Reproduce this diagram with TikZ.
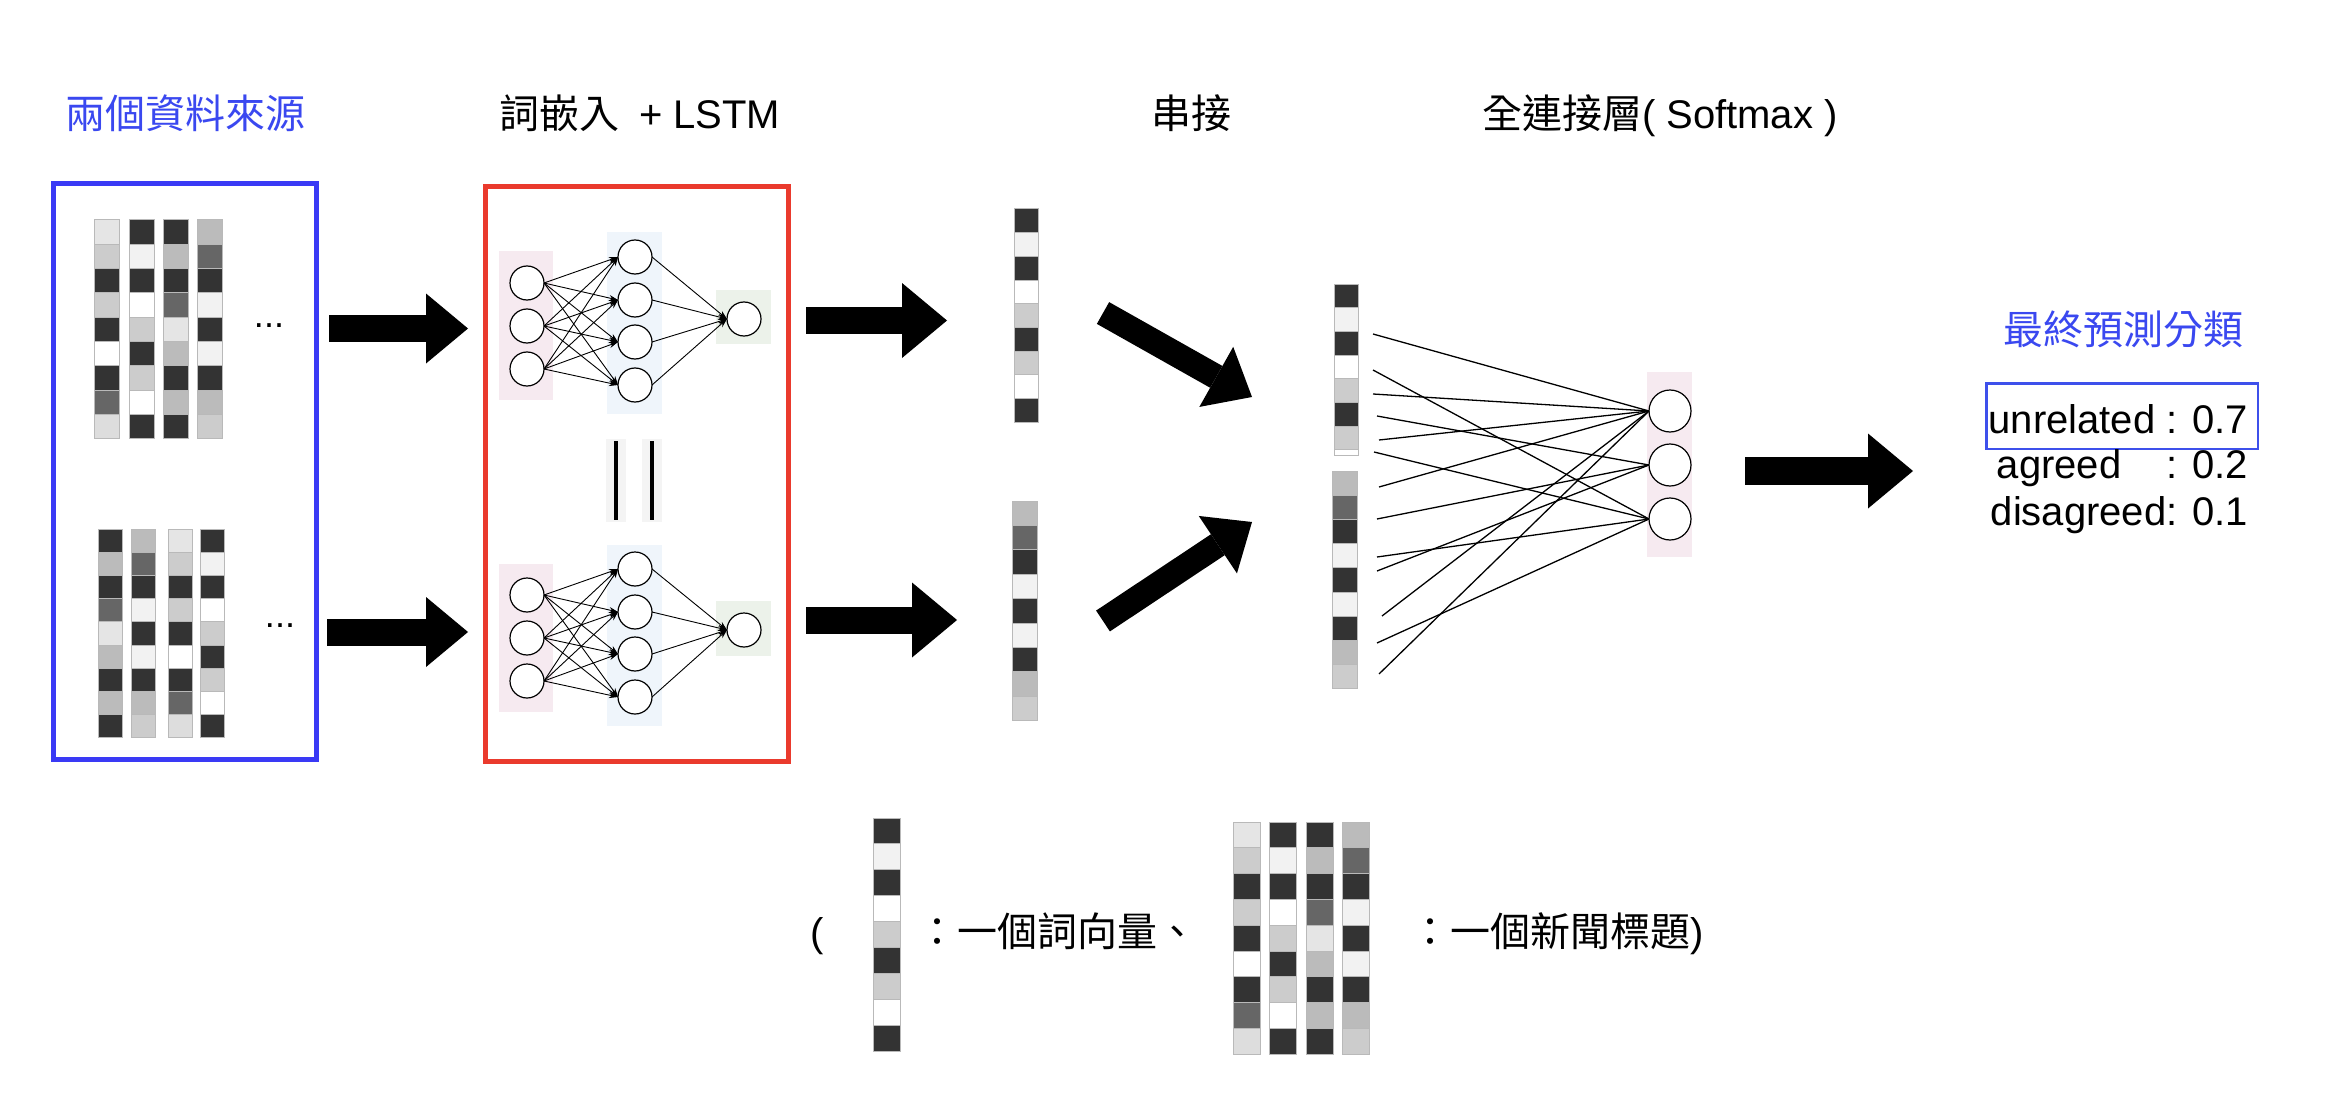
\documentclass[tikz,border=0pt]{standalone}
\usepackage{fontspec}
\setmainfont{Liberation Sans}
\newfontfamily\cjk{Noto Sans CJK TC}
\usetikzlibrary{arrows.meta}

\definecolor{srcblue}{RGB}{58,58,245}
\definecolor{ttlblue}{RGB}{58,72,240}
\definecolor{resblue}{RGB}{62,80,235}
\definecolor{lstmred}{RGB}{234,58,45}
\definecolor{pinkbg}{RGB}{246,234,240}
\definecolor{bluebg}{RGB}{239,245,251}
\definecolor{greenbg}{RGB}{236,242,234}
\definecolor{stripbg}{RGB}{244,244,244}
\definecolor{cellline}{RGB}{185,185,185}
\definecolor{k3}{RGB}{51,51,51}
\definecolor{k6}{RGB}{102,102,102}
\definecolor{kb}{RGB}{187,187,187}
\definecolor{kc}{RGB}{204,204,204}
\definecolor{kd}{RGB}{221,221,221}
\definecolor{ke}{RGB}{229,229,229}
\definecolor{kf}{RGB}{242,242,242}
\definecolor{kw}{RGB}{255,255,255}

\def\colA{ke,kc,k3,kc,k3,kw,k3,k6,kd}
\def\colB{k3,kf,k3,kw,kc,k3,kc,kw,k3}
\def\colC{k3,kb,k3,k6,ke,kb,k3,kb,k3}
\def\colD{kb,k6,k3,kf,k3,kf,k3,kb,kc}
\def\colBseven{k3,kf,k3,kw,kc,k3,kc}

% x, ytop, width, cell height, colour list macro
\newcommand\vecbar[5]{%
  \foreach \cc [count=\ii] in #5 {
    \filldraw[fill=\cc, draw=cellline, line width=1pt]
      ({#1},{#2+(\ii-1)*#4}) rectangle ++(#3,#4);
  }}

\tikzset{
  neuron/.style={circle, draw=black, line width=1.2pt, fill=white,
                 minimum size=34pt, inner sep=0pt, outer sep=0pt},
  outneuron/.style={neuron, minimum size=42pt},
  nnedge/.style={line width=0.9pt, -{Stealth[length=9pt,width=6pt]}},
  fcedge/.style={line width=1.3pt},
  bigarrow/.style={line width=27pt, -{Triangle[length=45pt,width=75pt,line width=0pt]}},
  smallarrow/.style={line width=27pt, -{Triangle[length=42pt,width=70pt,line width=0pt]}},
  diagarrow/.style={line width=25pt, -{Triangle[length=41pt,width=69pt,line width=0pt]}},
  txt/.style={font=\fontsize{40}{46}\selectfont, inner sep=0pt, outer sep=0pt},
}

\begin{document}
\begin{tikzpicture}[x=1pt,y=-1pt]
\useasboundingbox[fill=white] (0,0) rectangle (2332,1094);

% ---------- titles ----------
\node[txt, anchor=base, text=ttlblue] (t1) at (185,129) {\cjk 兩個資料來源};
\node[txt, anchor=base west] (t2) at (499,129) {{\cjk 詞嵌入}\hspace{20pt}+ LSTM};
\node[txt, anchor=base] (t3) at (1191,129) {\cjk 串接};
\node[txt, anchor=base west] (t4) at (1482,129) {{\cjk 全連接層}( Softmax )};
\node[txt, anchor=base, text=ttlblue] (t5) at (2123,344) {\cjk 最終預測分類};

% ---------- source box ----------
\draw[srcblue, line width=5pt] (53.5,183.5) rectangle (316.5,759.5);
\vecbar{94}{220}{25}{24.33}{\colA}
\vecbar{129}{220}{25}{24.33}{\colB}
\vecbar{163}{220}{25}{24.33}{\colC}
\vecbar{197}{220}{25}{24.33}{\colD}
\vecbar{98}{529}{24}{23.2}{\colC}
\vecbar{131}{529}{24}{23.2}{\colD}
\vecbar{168}{529}{24}{23.2}{\colA}
\vecbar{200}{529}{24}{23.2}{\colB}
\node[font=\fontsize{36}{40}\selectfont, inner sep=0pt, anchor=base] (dots1) at (269,327) {...};
\node[font=\fontsize{36}{40}\selectfont, inner sep=0pt, anchor=base] (dots2) at (280,627) {...};

% ---------- LSTM box ----------
\draw[lstmred, line width=5pt] (485.5,186.5) rectangle (788.5,761.5);

% top net
\fill[pinkbg] (499,251) rectangle (553,400);
\fill[bluebg] (607,232) rectangle (662,414);
\fill[greenbg] (716,290) rectangle (771,344);
\foreach \y [count=\i] in {283,326,369} \node[neuron] (ti\i) at (527,\y) {};
\foreach \y [count=\i] in {257,300,342,385} \node[neuron] (th\i) at (635,\y) {};
\node[neuron] (to) at (744,319) {};
\foreach \i in {1,2,3} \foreach \j in {1,2,3,4} \draw[nnedge] (ti\i.east) -- (th\j.west);
\foreach \j in {1,2,3,4} \draw[nnedge] (th\j.east) -- (to.west);

% bottom net
\fill[pinkbg] (499,564) rectangle (553,712);
\fill[bluebg] (607,545) rectangle (662,726);
\fill[greenbg] (716,601) rectangle (771,656);
\foreach \y [count=\i] in {595,638,681} \node[neuron] (bi\i) at (527,\y) {};
\foreach \y [count=\i] in {569,612,654,697} \node[neuron] (bh\i) at (635,\y) {};
\node[neuron] (bo) at (744,630) {};
\foreach \i in {1,2,3} \foreach \j in {1,2,3,4} \draw[nnedge] (bi\i.east) -- (bh\j.west);
\foreach \j in {1,2,3,4} \draw[nnedge] (bh\j.east) -- (bo.west);

% shared-weight bars
\fill[stripbg] (606,439) rectangle (626,522);
\fill[stripbg] (642,439) rectangle (662,522);
\draw[line width=3.5pt] (616,441) -- (616,520);
\draw[line width=3.5pt] (652,441) -- (652,520);

% ---------- LSTM outputs ----------
\vecbar{1014}{209}{24}{23.7}{\colB}
\vecbar{1012}{501}{25}{24.4}{\colD}

% ---------- concatenated vector ----------
\vecbar{1334}{284}{24}{23.7}{\colBseven}
\filldraw[fill=white, draw=cellline, line width=1pt] (1334,449.9) rectangle (1358,455);
\vecbar{1332}{471}{25}{24.2}{\colD}

% ---------- output layer ----------
\fill[pinkbg] (1647,372) rectangle (1692,557);
\coordinate (l1) at (1373,334);
\coordinate (l2) at (1373,370);
\coordinate (l3) at (1373,394);
\coordinate (l4) at (1377,416);
\coordinate (l5) at (1379,440);
\coordinate (l6) at (1374,452);
\coordinate (l7) at (1379,487);
\coordinate (l8) at (1377,519);
\coordinate (l9) at (1377,557);
\coordinate (l10) at (1377,571);
\coordinate (l11) at (1382,616);
\coordinate (l12) at (1377,643);
\coordinate (l13) at (1379,674);
\node[outneuron] (c1) at (1670,411) {};
\node[outneuron] (c2) at (1670,465) {};
\node[outneuron] (c3) at (1670,519) {};
\foreach \s/\t in {l1/c1,l2/c3,l3/c1,l4/c2,l5/c1,l6/c3,l7/c1,l8/c2,l9/c3,l10/c2,l11/c1,l12/c3,l13/c1}
  \draw[fcedge] (\s) -- (\t.west);

% ---------- big arrows ----------
\coordinate (a1s) at (329,328.5);  \coordinate (a1e) at (468,328.5);
\coordinate (a2s) at (327,632);    \coordinate (a2e) at (468,632);
\coordinate (a3s) at (806,320.5);  \coordinate (a3e) at (947,320.5);
\coordinate (a4s) at (806,620);    \coordinate (a4e) at (957,620);
\coordinate (a5s) at (1103,313);   \coordinate (a5e) at (1252,397);
\coordinate (a6s) at (1103,621);   \coordinate (a6e) at (1252,522);
\coordinate (a7s) at (1745,471);   \coordinate (a7e) at (1913,471);
\draw[smallarrow] (a1s) -- (a1e);
\draw[smallarrow] (a2s) -- (a2e);
\draw[bigarrow] (a3s) -- (a3e);
\draw[bigarrow] (a4s) -- (a4e);
\draw[diagarrow] (a5s) -- (a5e);
\draw[diagarrow] (a6s) -- (a6e);
\draw[bigarrow, line width=28pt] (a7s) -- (a7e);

% ---------- results ----------
\draw[resblue, line width=2.5pt] (1986.25,383.25) rectangle (2257.75,448.75);
\node[txt, anchor=base east] (r1) at (2248,433) {unrelated : 0.7};
\node[txt, anchor=base east] (r2) at (2248,478) {agreed\hspace{45pt}: 0.2};
\node[txt, anchor=base east] (r3) at (2248,525) {disagreed: 0.1};

% ---------- legend ----------
\node[txt, anchor=base west] (lp) at (810,946) {(};
\vecbar{873}{818}{27}{25.9}{\colB}
\node[txt, anchor=base west] (lw) at (917,946) {\cjk ：一個詞向量、};
\vecbar{1233}{822}{27}{25.8}{\colA}
\vecbar{1269}{822}{27}{25.8}{\colB}
\vecbar{1306}{822}{27}{25.8}{\colC}
\vecbar{1342}{822}{27}{25.8}{\colD}
\node[txt, anchor=base west] (lt) at (1410,946) {{\cjk ：一個新聞標題})};
\end{tikzpicture}
\end{document}
